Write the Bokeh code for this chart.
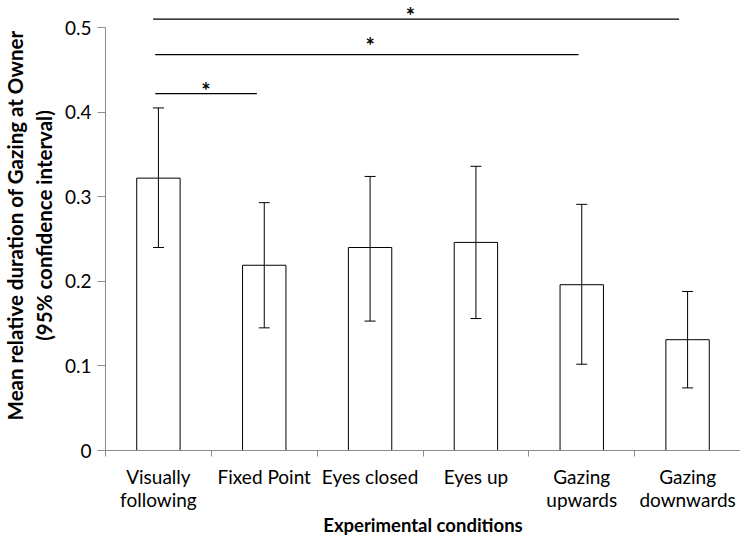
from bokeh.plotting import figure
from bokeh.models import ColumnDataSource, FixedTicker, Whisker, TeeHead, Range1d
from bokeh.core.properties import value
from bokeh.embed import file_html
from bokeh.resources import INLINE

conditions = ["Visually\nfollowing", "Fixed Point", "Eyes closed", "Eyes up",
              "Gazing\nupwards", "Gazing\ndownwards"]
means = [0.322, 0.219, 0.240, 0.246, 0.196, 0.131]
ci_upper = [0.405, 0.293, 0.324, 0.336, 0.291, 0.188]
ci_lower = [0.240, 0.145, 0.153, 0.156, 0.102, 0.074]

# significance brackets (start / end in category units, height in data units)
sig_start = [0.45, 0.47, 0.47]
sig_end = [5.42, 4.47, 1.43]
sig_y = [0.510, 0.468, 0.422]
star_x = [2.88, 2.50, 0.95]
star_y = [0.520, 0.485, 0.432]

x_title = "Experimental conditions"
y_title = "Mean relative duration of Gazing at Owner\n(95% confidence interval)"

centers = [i + 0.5 for i in range(len(conditions))]

FONT = "Lato"
AXIS_GREY = "#8c8c8c"

src = ColumnDataSource(dict(x=centers, top=means, upper=ci_upper, lower=ci_lower))

p = figure(width=740, height=538, output_backend="svg", toolbar_location=None,
           x_range=Range1d(0, len(conditions)), y_range=Range1d(0, 0.532),
           min_border_left=96, min_border_right=0, min_border_top=0, min_border_bottom=76)
p.outline_line_color = None
p.grid.visible = False
p.background_fill_color = "white"

p.vbar(x="x", top="top", width=0.41, source=src, fill_color="white",
       line_color="black", line_width=1)

w = Whisker(base="x", upper="upper", lower="lower", source=src,
            line_color="black", line_width=1, level="overlay",
            upper_head=TeeHead(size=11, line_color="black", line_width=1),
            lower_head=TeeHead(size=11, line_color="black", line_width=1))
p.add_layout(w)

p.segment(x0=sig_start, x1=sig_end, y0=sig_y, y1=sig_y, line_color="black", line_width=1.3)
p.text(x=star_x, y=star_y, text=["*"] * 3, text_font=value(FONT), text_font_style="bold",
       text_font_size="22px", text_align="center", text_baseline="middle", text_color="black",
       y_offset=5)

# y axis
yax = p.yaxis[0]
yax.ticker = FixedTicker(ticks=[0, 0.1, 0.2, 0.3, 0.4, 0.5])
yax.major_label_overrides = {0: "0"}
yax.bounds = (0, 0.5)
yax.axis_line_color = AXIS_GREY
yax.major_tick_line_color = AXIS_GREY
yax.major_tick_out = 8
yax.major_tick_in = 0
yax.minor_tick_line_color = None
yax.major_label_text_font = FONT
yax.major_label_text_font_size = "19px"
yax.major_label_text_color = "black"
yax.major_label_standoff = 6
yax.axis_label = y_title
yax.axis_label_text_font = FONT
yax.axis_label_text_font_style = "bold"
yax.axis_label_text_font_size = "20.5px"
yax.axis_label_text_color = "black"
yax.axis_label_standoff = 6

# x axis
xax = p.xaxis[0]
xax.ticker = FixedTicker(ticks=centers, minor_ticks=list(range(len(conditions) + 1)))
xax.major_label_overrides = {c: lab for c, lab in zip(centers, conditions)}
xax.axis_line_color = AXIS_GREY
xax.major_tick_line_color = None
xax.major_tick_out = 0
xax.major_tick_in = 0
xax.minor_tick_line_color = AXIS_GREY
xax.minor_tick_out = 6
xax.minor_tick_in = 0
xax.major_label_text_font = FONT
xax.major_label_text_font_size = "19px"
xax.major_label_text_line_height = 1.0
xax.major_label_text_color = "black"
xax.major_label_standoff = 8
xax.axis_label = x_title
xax.axis_label_text_font = FONT
xax.axis_label_text_font_style = "bold"
xax.axis_label_text_font_size = "18.5px"
xax.axis_label_text_color = "black"
xax.axis_label_standoff = 0

open("out.html", "w").write(file_html(p, INLINE))
